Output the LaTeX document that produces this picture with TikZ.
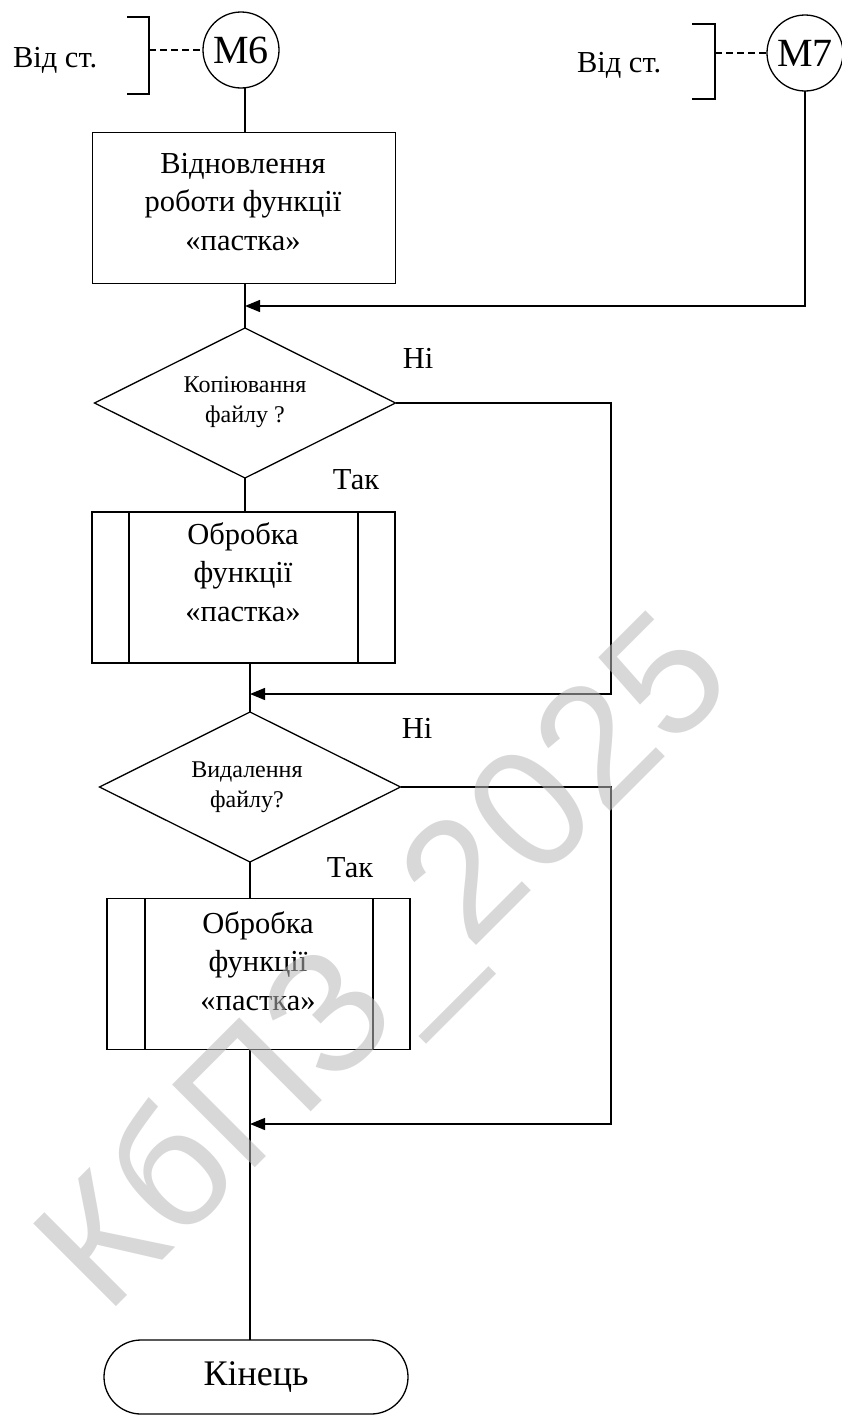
\documentclass[tikz,border=0pt]{standalone}
\usepackage{fontspec}
\setmainfont{Liberation Serif}
\newfontfamily\wmfont{Liberation Sans}
\usetikzlibrary{shapes.geometric,arrows.meta}
\definecolor{wmgray}{rgb}{0.72,0.72,0.72}
\begin{document}
\begin{tikzpicture}[x=1pt,y=-1pt,
  line width=1.3pt,
  every node/.style={inner sep=0pt, outer sep=0pt},
  lbl/.style={font=\fontsize{30.5}{36}\selectfont},
  btxt/.style={align=center, font=\fontsize{30.5}{38.5}\selectfont},
  dtxt/.style={align=center, font=\fontsize{24}{30}\selectfont},
  boxs/.style={draw, minimum width=303pt, minimum height=151pt},
  dec/.style={draw, diamond, aspect=2, minimum width=301pt, minimum height=150pt},
  conn/.style={draw, circle, minimum size=76pt, font=\fontsize{40}{42}\selectfont},
  term/.style={draw, rounded corners=37pt, minimum width=304pt, minimum height=74pt, font=\fontsize{36}{40}\selectfont},
  arr/.style={-{Triangle[length=15pt,width=12pt]}},
  dsh/.style={dash pattern=on 7pt off 4pt}
]
\useasboundingbox (0,0) rectangle (841,1416);

% connectors (circles) and "from" labels
\node[conn] (m6) at (241,50) {M6};
\node[conn] (m7) at (805,53) {M7};
\node[lbl, anchor=base west] (v1) at (13,67) {Від ст.};
\node[lbl, anchor=base west] (v2) at (577,72) {Від ст.};
\coordinate (br1) at (149,50);
\coordinate (br2) at (715,53);
\draw (127,17) -- (149,17) -- (149,94) -- (127,94);
\draw (692,24) -- (715,24) -- (715,99) -- (692,99);
\draw[dsh] (br1) -- (m6.west);
\draw[dsh] (br2) -- (m7.west);

% blocks
\node[boxs] (b1) at (244,208) {};
\node[btxt] (b1t) at (243,202) {Відновлення\\роботи функції\\«пастка»};
\node[dec] (d1) at (245,403) {};
\node[dtxt] (d1t) at (245,402) {Копіювання\\файлу ?};
\node[boxs] (b2) at (243.5,587.5) {};
\node[btxt] (b2t) at (243,572) {Обробка\\функції\\«пастка»};
\node[dec] (d2) at (250,787) {};
\node[dtxt] (d2t) at (247,787) {Видалення\\файлу?};
\node[boxs] (b3) at (258.5,974) {};
\node[btxt] (b3t) at (258,961) {Обробка\\функції\\«пастка»};
\node[term] (e) at (256,1377) {Кінець};

\draw ([xshift=37pt]b2.north west) -- ([xshift=37pt]b2.south west);
\draw ([xshift=-37pt]b2.north east) -- ([xshift=-37pt]b2.south east);
\draw ([xshift=38pt]b3.north west) -- ([xshift=38pt]b3.south west);
\draw ([xshift=-37pt]b3.north east) -- ([xshift=-37pt]b3.south east);

% labels
\node[lbl] (n1) at (418,358) {Ні};
\node[lbl] (t1) at (356,480) {Так};
\node[lbl] (n2) at (417,728) {Ні};
\node[lbl] (t2) at (350,868) {Так};

% coordinates
\coordinate (j1) at (245,306);
\coordinate (j2) at (250,694);
\coordinate (j3) at (250,1124);
\coordinate (rx) at (611,0);

% flow lines
\draw (m6.south -| d1.north) -- (d1.north |- b1.north);
\draw (d1.north |- b1.south) -- (d1.north);
\draw[arr] (m7.south) -- (m7.south |- j1) -- (j1);
\draw (d1.south) -- (d1.south |- b2.north);
\draw (j2 |- b2.south) -- (d2.north);
\draw (d2.south) -- (d2.south |- b3.north);
\draw (d2.south |- b3.south) -- (d2.south |- e.north);
\draw[arr] (d1.east) -- (d1.east -| rx) -- (rx |- j2) -- (j2);
\draw[arr] (d2.east) -- (d2.east -| rx) -- (rx |- j3) -- (j3);

% watermark
\node[rotate=45, text=wmgray, opacity=0.55, font=\wmfont\fontsize{170}{170}\selectfont] (wm) at (390,968) {КбПЗ\_2025};
\end{tikzpicture}
\end{document}
